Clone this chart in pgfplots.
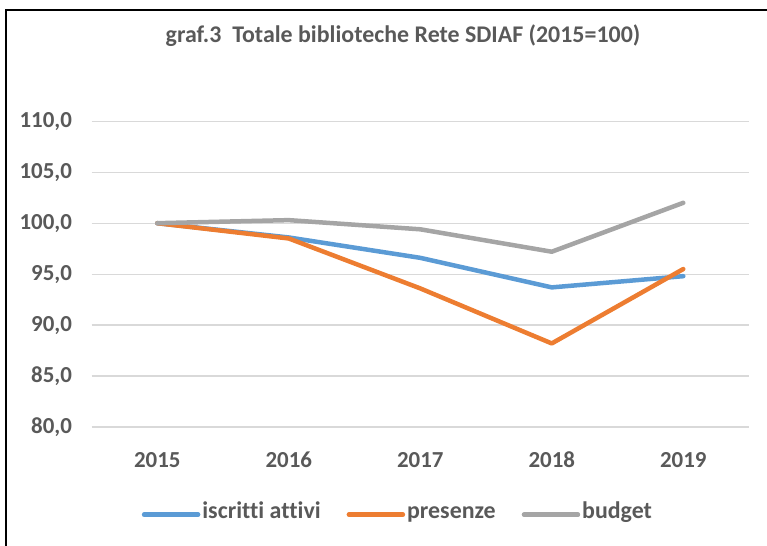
\documentclass[border=0pt]{standalone}
\usepackage{pgfplots}
\pgfplotsset{compat=1.18}
\usepackage{fontspec}
\setmainfont{Carlito}[Ligatures=NoCommon]
\definecolor{txt}{HTML}{595959}
\definecolor{grd}{HTML}{D9D9D9}
\definecolor{cblue}{HTML}{5B9BD5}
\definecolor{corange}{HTML}{ED7D31}
\definecolor{cgray}{HTML}{A5A5A5}
\begin{document}
\begin{tikzpicture}[x=1bp,y=1bp]
\path[use as bounding box] (0,0) rectangle (767,546);
\draw[line width=2.2bp,black] (6,0) -- (6,536) -- (767,536);
\node[font=\fontsize{24}{28}\selectfont\bfseries,text=txt] at (403,510) {graf.3\ \ Totale biblioteche Rete SDIAF (2015=100)};
\begin{axis}[
  at={(91.5bp,119bp)}, anchor=south west,
  scale only axis, width=657.5bp, height=305.7bp,
  xmin=-0.5, xmax=4.5, ymin=80, ymax=110,
  axis line style={draw=none},
  ymajorgrids, grid style={grd, line width=1.2bp},
  xtick={0,1,2,3,4}, xticklabels={2015,2016,2017,2018,2019},
  ytick={80,85,90,95,100,105,110},
  yticklabel={\pgfmathprintnumber[fixed,fixed zerofill,precision=1,use comma]{\tick}},
  /pgf/number format/assume math mode=true,
  tick label style={font=\fontsize{23}{26}\selectfont\bfseries,text=txt},
  xticklabel style={text height=14.5bp, text depth=0bp, yshift=-22bp},
  yticklabel style={xshift=-16bp},
  major tick length=0pt, tick style={draw=none},
  clip=false,
  legend style={at={(0.466,-0.282)}, anchor=center, draw=none, fill=none,
    font=\fontsize{24}{28}\selectfont\bfseries, text=txt,
    nodes={text height=16bp, text depth=5bp},
    legend columns=3, /tikz/every even column/.append style={column sep=24bp},
    /tikz/every odd column/.append style={inner xsep=1bp}},
  legend image code/.code={\draw[#1, line width=4.5bp, line cap=round] (0bp,-1.5bp) -- (54bp,-1.5bp);},
  every axis plot/.append style={line width=4.5bp, line cap=round, line join=round, mark=none},
]
\addplot[cblue] coordinates {(0,100) (1,98.6) (2,96.6) (3,93.7) (4,94.8)};
\addlegendentry{iscritti attivi}
\addplot[corange] coordinates {(0,100) (1,98.5) (2,93.6) (3,88.2) (4,95.5)};
\addlegendentry{presenze}
\addplot[cgray] coordinates {(0,100) (1,100.3) (2,99.4) (3,97.2) (4,102.0)};
\addlegendentry{budget}
\end{axis}
\end{tikzpicture}
\end{document}
